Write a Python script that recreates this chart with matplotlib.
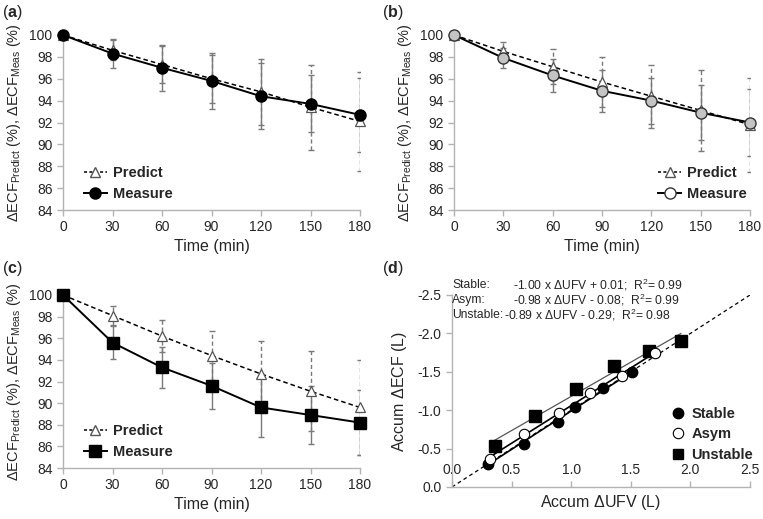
import matplotlib
matplotlib.use("Agg")
import matplotlib.pyplot as plt
from matplotlib.lines import Line2D
import numpy as np

plt.rcParams['font.family'] = ['Liberation Sans', 'DejaVu Sans']
plt.rcParams['mathtext.fontset'] = 'custom'
plt.rcParams['mathtext.rm'] = 'Liberation Sans'
plt.rcParams['mathtext.it'] = 'Liberation Sans:italic'
plt.rcParams['mathtext.bf'] = 'Liberation Sans:bold'
plt.rcParams['axes.unicode_minus'] = False

# time course data (panels a-c)
time = [0, 30, 60, 90, 120, 150, 180]
time_ticks = [0, 30, 60, 90, 120, 150, 180]
pct_ticks = [84, 86, 88, 90, 92, 94, 96, 98, 100]

a_predict = [100, 98.6, 97.3, 96.0, 94.8, 93.4, 92.1]
a_predict_sd = [0, 0.9, 1.7, 2.2, 3.0, 3.9, 4.5]
a_measure = [100, 98.3, 97.0, 95.8, 94.4, 93.7, 92.7]
a_measure_sd = [0, 1.3, 2.1, 2.6, 3.0, 2.6, 3.4]

b_predict = [100, 98.5, 97.1, 95.7, 94.4, 93.1, 91.8]
b_predict_sd = [0, 0.9, 1.6, 2.3, 2.9, 3.7, 4.3]
b_measure = [100, 97.9, 96.3, 94.9, 94.0, 92.9, 92.0]
b_measure_sd = [0, 0.9, 1.5, 1.9, 2.1, 2.5, 3.1]

c_predict = [100, 98.1, 96.2, 94.4, 92.7, 91.1, 89.6]
c_predict_sd = [0, 0.9, 1.5, 2.3, 3.0, 3.7, 4.4]
c_measure = [100, 95.6, 93.3, 91.6, 89.6, 88.9, 88.2]
c_measure_sd = [0, 1.5, 1.9, 2.1, 2.7, 2.7, 3.0]

# panel d data
stable_x = [0.30, 0.60, 0.89, 1.03, 1.27, 1.51]
stable_y = [-0.30, -0.56, -0.84, -1.04, -1.29, -1.50]
asym_x = [0.32, 0.60, 0.90, 1.16, 1.43, 1.70]
asym_y = [-0.37, -0.69, -0.97, -1.23, -1.45, -1.75]
unstable_x = [0.36, 0.70, 1.04, 1.36, 1.65, 1.92]
unstable_y = [-0.53, -0.93, -1.27, -1.58, -1.77, -1.90]
fit_labels = ['Stable:', 'Asym:', 'Unstable:']
fit_slopes = [-1.00, -0.98, -0.89]
fit_intercepts = [0.01, -0.08, -0.29]
fit_r2 = [0.99, 0.99, 0.98]
d_ticks = [0.0, 0.5, 1.0, 1.5, 2.0, 2.5]

W, H = 763, 519
fig = plt.figure(figsize=(W / 100, H / 100), dpi=100)

def px_axes(x0, y_top, x1, y_bot):
    return fig.add_axes([x0 / W, 1 - y_bot / H, (x1 - x0) / W, (y_bot - y_top) / H])

spine_col = '#b3b3b3'
text_col = '#262626'
err_col = '#7a7a7a'

def style_axes(ax):
    for s in ['top', 'right']:
        ax.spines[s].set_visible(False)
    for s in ['left', 'bottom']:
        ax.spines[s].set_color(spine_col)
        ax.spines[s].set_linewidth(1.0)
    ax.tick_params(colors=spine_col, labelcolor=text_col, labelsize=10, length=4, width=1)

def time_panel(ax, predict, predict_sd, measure, measure_sd, mstyle, legend_pos):
    style_axes(ax)
    # error bars
    eb = ax.errorbar(time, predict, yerr=predict_sd, fmt='none', ecolor=err_col,
                     elinewidth=1, capsize=2, capthick=1, zorder=2)
    eb.lines[2][0].set_linestyle((0, (3, 2)))
    ax.errorbar(time, measure, yerr=measure_sd, fmt='none', ecolor=err_col,
                elinewidth=1, capsize=2, capthick=1, zorder=2)
    ax.plot(time, predict, color='black', lw=1.1, ls=(0, (3, 2)), zorder=3)
    ax.plot(time, measure, color='black', lw=1.4, zorder=3)
    ax.plot(time, predict, ls='none', marker='^', ms=6.5, mfc='white', mec='#555555',
            mew=0.9, zorder=4, clip_on=False)
    ax.plot(time, measure, ls='none', marker=mstyle['marker'], ms=mstyle['ms'],
            mfc=mstyle['mfc'], mec=mstyle['mec'], mew=1.0, zorder=5, clip_on=False)
    ax.set_xlim(0, 180)
    ax.set_ylim(84, 100)
    ax.set_xticks(time_ticks)
    ax.set_yticks(pct_ticks)
    ax.set_xlabel('Time (min)', fontsize=11.5, color=text_col, labelpad=3)
    ax.set_ylabel(r'$\Delta$ECF$_{\mathregular{Predict}}$ (%), $\Delta$ECF$_{\mathregular{Meas}}$ (%)',
                  fontsize=10.5, color=text_col, labelpad=5)
    h1 = Line2D([], [], color='black', lw=1.1, ls=(0, (2, 1.5)), marker='^', ms=6.5,
                mfc='white', mec='#555555')
    h2 = Line2D([], [], color='black', lw=1.4, marker=mstyle['marker'], ms=mstyle['ms'],
                mfc=mstyle['leg_mfc'], mec=mstyle['mec'])
    leg = ax.legend([h1, h2], ['Predict', 'Measure'], loc='lower left',
                    bbox_to_anchor=legend_pos, frameon=False, handlelength=1.6,
                    handletextpad=0.4, labelspacing=0.45, borderaxespad=0,
                    prop={'weight': 'bold', 'size': 10.5})
    for t in leg.get_texts():
        t.set_color(text_col)

ax_a = px_axes(63, 35, 360, 210)
time_panel(ax_a, a_predict, a_predict_sd, a_measure, a_measure_sd,
           {'marker': 'o', 'ms': 8, 'mfc': 'black', 'mec': 'black', 'leg_mfc': 'black'},
           (0.05, 0.02))

ax_b = px_axes(454, 35, 750, 210)
time_panel(ax_b, b_predict, b_predict_sd, b_measure, b_measure_sd,
           {'marker': 'o', 'ms': 8, 'mfc': '#c4c4c4', 'mec': '#333333', 'leg_mfc': 'white'},
           (0.67, 0.02))

ax_c = px_axes(63, 295, 360, 468)
time_panel(ax_c, c_predict, c_predict_sd, c_measure, c_measure_sd,
           {'marker': 's', 'ms': 8.5, 'mfc': 'black', 'mec': 'black', 'leg_mfc': 'black'},
           (0.05, 0.02))

# panel d
ax_d = px_axes(452, 295, 750, 487)
style_axes(ax_d)
ax_d.plot([0, 2.5], [0, -2.5], color='black', lw=0.9, ls=(0, (3, 2.5)), zorder=1)
series = [(stable_x, stable_y), (asym_x, asym_y), (unstable_x, unstable_y)]
line_cols = ['black', 'black', '#555555']
line_w = [1.2, 1.2, 0.9]
for (xs, ys), m, b, c, lw in zip(series, fit_slopes, fit_intercepts, line_cols, line_w):
    xx = np.array([min(xs), max(xs)])
    ax_d.plot(xx, m * xx + b, color=c, lw=lw, zorder=2)
ax_d.plot(stable_x, stable_y, ls='none', marker='o', ms=7.5, mfc='black', mec='black', zorder=4)
ax_d.plot(asym_x, asym_y, ls='none', marker='o', ms=7.5, mfc='white', mec='black', mew=0.8, zorder=4)
ax_d.plot(unstable_x, unstable_y, ls='none', marker='s', ms=8, mfc='black', mec='black', zorder=3)
ax_d.set_xlim(0, 2.5)
ax_d.set_ylim(0, -2.5)
ax_d.set_xticks(d_ticks)
ax_d.set_xticklabels(['%.1f' % v for v in d_ticks])
ax_d.set_yticks([-v for v in d_ticks])
ax_d.set_yticklabels(['%.1f' % v if v == 0 else '-%.1f' % v for v in d_ticks])
ax_d.tick_params(axis='x', direction='in', pad=-17)
ax_d.set_xlabel(r'Accum $\Delta$UFV (L)', fontsize=11.5, color=text_col, labelpad=4)
ax_d.set_ylabel(r'Accum $\Delta$ECF (L)', fontsize=11.5, color=text_col, labelpad=6)

# regression equations, drawn above the plot area
eq_y = [-2.63, -2.43, -2.24]
eq_x = [0.51, 0.51, 0.44]
for lab, m, b, r2, y, ex in zip(fit_labels, fit_slopes, fit_intercepts, fit_r2, eq_y, eq_x):
    sign = '+' if b >= 0 else '-'
    ax_d.text(0.0, y, lab, fontsize=8.7, color=text_col, va='center', ha='left')
    ax_d.text(ex, y, r'%.2f x $\Delta$UFV %s %.2f;  R$^2$= %.2f' % (m, sign, abs(b), r2),
              fontsize=8.7, color=text_col, va='center', ha='left')

hs = [Line2D([], [], ls='none', marker='o', ms=7.5, mfc='black', mec='black'),
      Line2D([], [], ls='none', marker='o', ms=7.5, mfc='white', mec='black', mew=0.8),
      Line2D([], [], ls='none', marker='s', ms=7.5, mfc='black', mec='black')]
leg = ax_d.legend(hs, ['Stable', 'Asym', 'Unstable'], loc='lower left',
                  bbox_to_anchor=(0.72, 0.1), frameon=False, handlelength=0.8,
                  handletextpad=0.5, labelspacing=0.45, borderaxespad=0,
                  prop={'weight': 'bold', 'size': 10.5})
for t in leg.get_texts():
    t.set_color(text_col)

# panel letters
for lab, x, y in [('a', 2, 12), ('b', 382, 12), ('c', 2, 268), ('d', 382, 268)]:
    fig.text(x / W, 1 - y / H, '(' + r'$\mathbf{%s}$' % lab + ')', fontsize=11.5,
             color=text_col, va='center', ha='left')

fig.savefig('out.png', dpi=100)
